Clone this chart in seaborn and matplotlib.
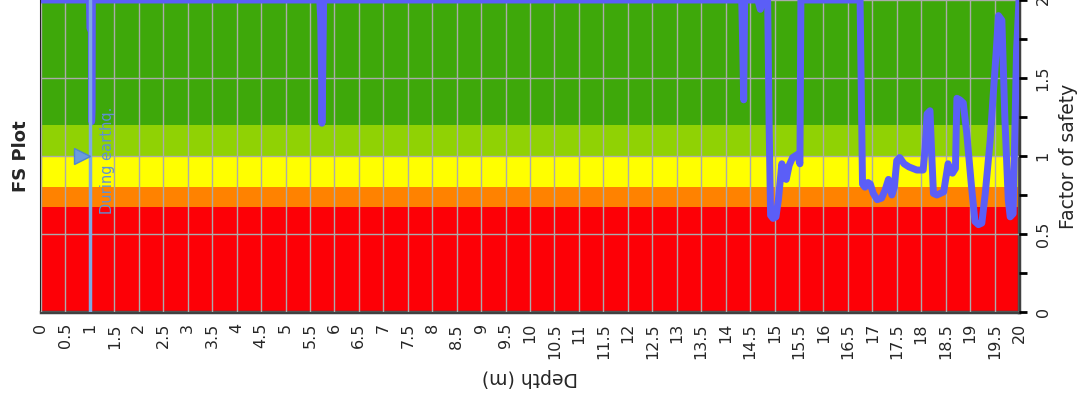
import matplotlib
matplotlib.use("Agg")
import matplotlib.pyplot as plt
import matplotlib.transforms as mtransforms
import seaborn as sns
import numpy as np
import pandas as pd

# ---- data ----
depth = [0.0, 0.99, 1.0, 1.03, 1.035, 1.045, 1.05,
         5.70, 5.72, 5.74, 5.745, 5.76, 5.78,
         14.33, 14.35, 14.37, 14.39, 14.66, 14.71, 14.76,
         14.86, 14.89, 14.92, 14.97, 15.03, 15.08, 15.15, 15.24, 15.30, 15.37, 15.47, 15.52, 15.54,
         16.75, 16.80, 16.85, 16.91, 16.96, 17.02, 17.10, 17.19, 17.26, 17.33, 17.40, 17.45, 17.50,
         17.56, 17.65, 17.75, 17.91, 18.04, 18.08, 18.12, 18.18, 18.21, 18.25, 18.32, 18.46, 18.55,
         18.60, 18.64, 18.70, 18.73, 18.79, 18.86, 18.93, 19.03, 19.10, 19.17, 19.24, 19.31, 19.41,
         19.47, 19.53, 19.58, 19.65, 19.71, 19.78, 19.82, 19.88, 19.95, 20.0]
fs = [2.0, 2.0, 1.82, 1.8, 1.22, 1.3, 2.0,
      2.0, 1.88, 1.44, 1.21, 1.5, 2.0,
      2.0, 1.7, 1.36, 2.0, 2.0, 1.94, 2.0,
      2.0, 1.2, 0.62, 0.60, 0.61, 0.72, 0.95, 0.85, 0.94, 0.99, 1.01, 0.95, 2.0,
      2.0, 0.82, 0.80, 0.83, 0.82, 0.76, 0.72, 0.73, 0.78, 0.85, 0.75, 0.80, 0.97,
      0.99, 0.95, 0.93, 0.91, 0.91, 1.05, 1.27, 1.29, 1.05, 0.76, 0.75, 0.77, 0.95,
      0.90, 0.89, 0.92, 1.37, 1.36, 1.34, 1.15, 0.80, 0.58, 0.56, 0.57, 0.76, 1.10,
      1.38, 1.65, 1.90, 1.87, 1.25, 0.72, 0.61, 0.63, 1.68, 2.0]

band_lo = [0.0, 0.67, 0.8, 1.0, 1.2]
band_hi = [0.67, 0.8, 1.0, 1.2, 2.0]
band_colors = ["#fd0006", "#ff8200", "#ffff00", "#90d204", "#3ea80a"]

event_depth = 1.0
event_fs = 1.0
event_label = "During earthq."

xticks = np.arange(0, 20.01, 0.5)
xticklabels = [("%g" % v) for v in xticks]
yticks_major = [0, 0.5, 1, 1.5, 2]
yticklabels = ["0", "0.5", "1", "1.5", "2"]
yticks_minor = [0.25, 0.75, 1.25, 1.75]

# ---- figure ----
sns.set_style("white")
plt.rcParams["font.family"] = ["DejaVu Sans"]

fig = plt.figure(figsize=(10.78, 3.98), dpi=100)
ax = fig.add_axes([41 / 1078, 1 - 312 / 398, 978 / 1078, 312 / 398])

for lo, hi, c in zip(band_lo, band_hi, band_colors):
    ax.axhspan(lo, hi, color=c, lw=0, zorder=0)

ax.set_xlim(0, 20)
ax.set_ylim(0, 2)
ax.set_xticks(xticks)
ax.set_xticklabels(xticklabels, rotation=90, fontsize=11.5)
ax.yaxis.tick_right()
ax.set_yticks(yticks_major)
ax.set_yticklabels(yticklabels, rotation=90, va="center", fontsize=11.5)
ax.set_yticks(yticks_minor, minor=True)

ax.grid(True, which="major", color="#ababab", lw=1.0, zorder=1)
ax.set_axisbelow(False)

df = pd.DataFrame({"Depth": depth, "FS": fs})
sns.lineplot(data=df, x="Depth", y="FS", sort=False, estimator=None,
             color="#5b5ef7", lw=5, ax=ax, zorder=3)

ax.axvline(event_depth, color="#7ea9e2", lw=2.5, zorder=4)
off = mtransforms.offset_copy(ax.transData, fig=fig, x=-8, y=0, units="dots")
ax.plot([event_depth], [event_fs], marker=">", ms=11, color="#6a9be0",
        mec="#4f86cf", mew=1, transform=off, zorder=5, ls="none")
ax.annotate(event_label, xy=(event_depth, 0.63), xytext=(13, 0),
            textcoords="offset points", rotation=90, ha="center", va="bottom",
            color="#5f90d5", fontsize=10.5, zorder=5)

ax.tick_params(axis="x", which="both", direction="out", length=6, width=2,
               color="black", pad=2)
ax.tick_params(axis="y", which="both", direction="out", length=6, width=2,
               color="black", pad=6, right=True, left=False)

ax.spines["top"].set_visible(False)
ax.spines["left"].set_color("#222222")
ax.spines["left"].set_linewidth(1.5)
for s in ["bottom", "right"]:
    ax.spines[s].set_color("#404040")
    ax.spines[s].set_linewidth(2.5)

ax.set_xlabel("Depth (m)", fontsize=13.5, rotation=180)
ax.xaxis.set_label_coords(0.5, -0.21)
ax.xaxis.label.set_va("center")
ax.set_ylabel("Factor of safety", fontsize=13.5, rotation=90)
ax.yaxis.set_label_position("right")
ax.yaxis.set_label_coords(1.051, 0.5)
ax.yaxis.label.set_va("center")

ax.text(-0.0205, 0.5, "FS Plot", transform=ax.transAxes, rotation=90,
        ha="center", va="center", fontsize=13, fontweight="bold")

fig.savefig("out.png", dpi=100)
